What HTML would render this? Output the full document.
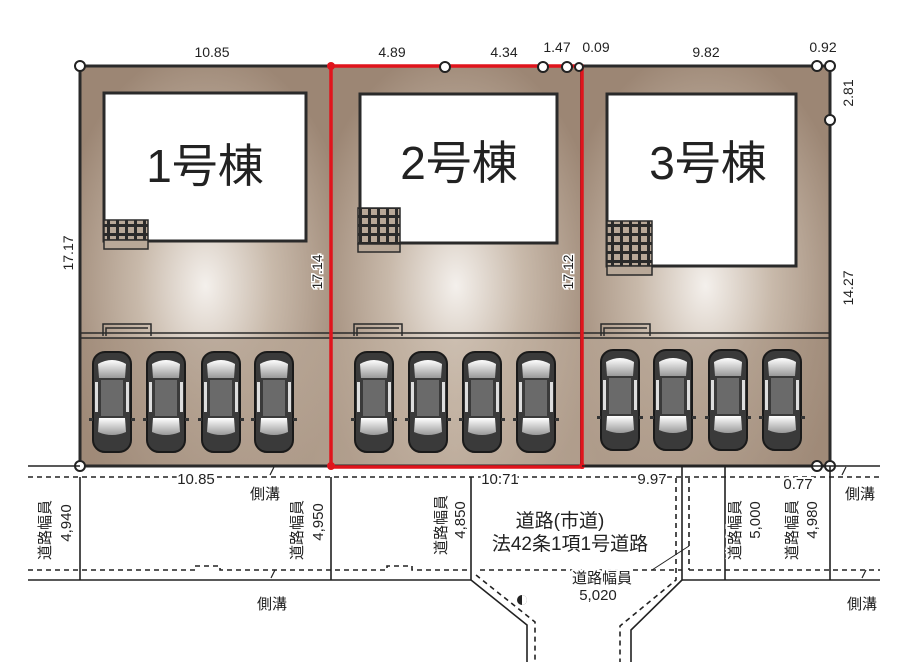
<!DOCTYPE html>
<html><head><meta charset="utf-8"><style>
html,body{margin:0;padding:0;background:#fff;}
svg{display:block;}
text{font-family:"Liberation Sans","Noto Sans CJK JP",sans-serif;fill:#222;}
</style></head><body>
<svg width="900" height="662" viewBox="0 0 900 662" xmlns="http://www.w3.org/2000/svg">
<defs>
<radialGradient id="lot" cx="0.5" cy="0.55" r="0.6">
<stop offset="0" stop-color="#f4f0ec"/><stop offset="0.45" stop-color="#c8b9aa"/><stop offset="1" stop-color="#9c8674"/>
</radialGradient>
<linearGradient id="pk" x1="0" y1="0" x2="1" y2="0">
<stop offset="0" stop-color="#a08b79"/><stop offset="0.5" stop-color="#c4b4a4"/><stop offset="1" stop-color="#a08b79"/>
</linearGradient>
<linearGradient id="gl" x1="0" y1="0" x2="0" y2="1"><stop offset="0" stop-color="#fff"/><stop offset="1" stop-color="#999"/></linearGradient>
<g id="car">
<rect x="-19" y="0" width="38" height="100" rx="12" fill="#3a3a3a" stroke="#1a1a1a" stroke-width="2"/>
<path d="M-14 12 Q0 4 14 12 L13 26 L-13 26 Z" fill="url(#gl)"/>
<rect x="-11" y="28" width="22" height="36" fill="#6a6a6a"/>
<path d="M-13 66 L13 66 L14 80 Q0 86 -14 80 Z" fill="url(#gl)"/>
<rect x="-17" y="30" width="3" height="30" fill="#ddd"/><rect x="14" y="30" width="3" height="30" fill="#ddd"/>
<rect x="-23" y="66" width="4" height="3" fill="#333"/><rect x="19" y="66" width="4" height="3" fill="#333"/>
</g>
<pattern id="grid" width="9" height="9" patternUnits="userSpaceOnUse"><rect width="9" height="9" fill="#2a2a2a"/><rect x="2" y="2" width="6" height="6" fill="#b8a898"/></pattern>
</defs>

<rect x="80" y="66" width="251" height="400" fill="url(#lot)"/>
<rect x="331" y="66" width="250" height="400" fill="url(#lot)"/>
<rect x="581" y="66" width="249" height="400" fill="url(#lot)"/>
<rect x="82" y="338" width="746" height="127" fill="url(#pk)" opacity="0.7"/>
<g stroke="#2a2a2a" fill="none" stroke-width="3">
<path d="M80 66 H830 V466 H80 Z"/>
</g>
<g stroke="#2a2a2a" stroke-width="1.5" fill="none">
<path d="M80 333 H830 M80 338 H830"/>
<path d="M103 336 V324 H151 V336 M106 336 V328 H148"/>
<path d="M354 336 V324 H402 V336 M357 336 V328 H399"/>
<path d="M601 336 V324 H650 V336 M604 336 V328 H647"/>
<line x1="581" y1="66" x2="581" y2="466" stroke-width="2"/>
</g>
<g fill="#fff" stroke="#2a2a2a" stroke-width="3">
<rect x="104" y="93" width="202" height="148"/>
<rect x="360" y="94" width="197" height="149"/>
<rect x="607" y="94" width="189" height="172"/>
</g>
<g stroke="#2a2a2a" stroke-width="1.5">
<rect x="104" y="220" width="44" height="20" fill="url(#grid)"/><rect x="104" y="240" width="44" height="9" fill="#b8a898"/>
<rect x="358" y="208" width="42" height="36" fill="url(#grid)"/><rect x="358" y="244" width="42" height="8" fill="#b8a898"/>
<rect x="607" y="221" width="45" height="45" fill="url(#grid)"/><rect x="607" y="266" width="45" height="9" fill="#b8a898"/>
</g>
<text x="205" y="182" font-size="46" text-anchor="middle">1号棟</text>
<text x="459" y="179" font-size="46" text-anchor="middle">2号棟</text>
<text x="708" y="179" font-size="46" text-anchor="middle">3号棟</text>

<use href="#car" x="112" y="352"/><use href="#car" x="166" y="352"/><use href="#car" x="221" y="352"/><use href="#car" x="274" y="352"/>
<use href="#car" x="374" y="352"/><use href="#car" x="428" y="352"/><use href="#car" x="482" y="352"/><use href="#car" x="536" y="352"/>
<use href="#car" x="620" y="350"/><use href="#car" x="673" y="350"/><use href="#car" x="728" y="350"/><use href="#car" x="782" y="350"/>

<rect x="331" y="66" width="251" height="401" fill="none" stroke="#e0141c" stroke-width="3.5"/>

<g fill="#fff" stroke="#222" stroke-width="2">
<circle cx="80" cy="66" r="5"/><circle cx="445" cy="67" r="5"/><circle cx="543" cy="67" r="5"/><circle cx="567" cy="67" r="5"/><circle cx="579" cy="67" r="4"/>
<circle cx="817" cy="66" r="5"/><circle cx="830" cy="66" r="5"/><circle cx="830" cy="120" r="5"/>
<circle cx="80" cy="466" r="5"/><circle cx="817" cy="466" r="5"/><circle cx="830" cy="466" r="5"/>
</g>
<circle cx="331" cy="66" r="4" fill="#e0141c"/><circle cx="331" cy="466" r="4" fill="#e0141c"/><circle cx="582" cy="466" r="3" fill="#e0141c"/>

<g font-size="14">
<text x="212" y="57" text-anchor="middle">10.85</text>
<text x="392" y="57" text-anchor="middle">4.89</text>
<text x="504" y="57" text-anchor="middle">4.34</text>
<text x="557" y="52" text-anchor="middle">1.47</text>
<text x="596" y="52" text-anchor="middle">0.09</text>
<text x="706" y="57" text-anchor="middle">9.82</text>
<text x="823" y="52" text-anchor="middle">0.92</text>
<text transform="translate(853,93) rotate(-90)" text-anchor="middle">2.81</text>
<text transform="translate(853,288) rotate(-90)" text-anchor="middle">14.27</text>
<text transform="translate(73,253) rotate(-90)" text-anchor="middle">17.17</text>
<text transform="translate(322,272) rotate(-90)" text-anchor="middle" stroke="#fff" stroke-width="3" paint-order="stroke">17.14</text>
<text transform="translate(573,272) rotate(-90)" text-anchor="middle" stroke="#fff" stroke-width="3" paint-order="stroke">17.12</text>
</g>

<g stroke="#222" stroke-width="1.6" fill="none">
<path d="M28 466 H80 M582 466 H880"/>
<path d="M28 580 H471 M682 580 H880"/>
<path d="M80 477 V580 M331 477 V580 M471 477 V580 L527 625 V662"/>
<path d="M682 466 V580 L631 630 V662 M725 466 V580 M830 466 V580"/>
<path d="M652 570 L689 546" stroke-width="1"/>
</g>
<g stroke="#222" stroke-width="1.6" fill="none" stroke-dasharray="5,4">
<path d="M28 477 H880"/>
<path d="M28 570 H195 V566 H220 V570 H387 V566 H412 V570 H471 M480 570 H682 M689 570 H880"/>
<path d="M476 575 L535 622 V662"/>
<path d="M676 478 V580 L620 626 V662"/>
<path d="M689 478 V570"/>
</g>
<g stroke="#222" stroke-width="1.2">
<path d="M270 475 l4 -8 M271 578 l4 -8 M842 475 l4 -8 M862 578 l4 -8"/>
</g>
<circle cx="522" cy="600" r="5" fill="#222"/><path d="M522 595 a5 5 0 0 1 0 10 z" fill="#fff"/>
<g font-size="15" stroke="#fff" stroke-width="4" paint-order="stroke">
<text x="196" y="484" text-anchor="middle">10.85</text>
<text x="500" y="484" text-anchor="middle">10.71</text>
<text x="652" y="484" text-anchor="middle">9.97</text>
<text x="798" y="489" text-anchor="middle">0.77</text>
<text x="265" y="499" text-anchor="middle">側溝</text>
<text x="272" y="609" text-anchor="middle">側溝</text>
<text x="860" y="499" text-anchor="middle">側溝</text>
<text x="862" y="609" text-anchor="middle">側溝</text>
<text x="560" y="527" text-anchor="middle" font-size="19">道路(市道)</text>
<text x="570" y="550" text-anchor="middle" font-size="19">法42条1項1号道路</text>
<text x="602" y="583" text-anchor="middle">道路幅員</text>
<text x="598" y="600" text-anchor="middle">5,020</text>
<text transform="translate(50,530) rotate(-90)" text-anchor="middle">道路幅員</text>
<text transform="translate(71,523) rotate(-90)" text-anchor="middle">4,940</text>
<text transform="translate(302,530) rotate(-90)" text-anchor="middle">道路幅員</text>
<text transform="translate(323,522) rotate(-90)" text-anchor="middle">4,950</text>
<text transform="translate(446,525) rotate(-90)" text-anchor="middle">道路幅員</text>
<text transform="translate(465,520) rotate(-90)" text-anchor="middle">4,850</text>
<text transform="translate(740,530) rotate(-90)" text-anchor="middle">道路幅員</text>
<text transform="translate(760,520) rotate(-90)" text-anchor="middle">5,000</text>
<text transform="translate(797,530) rotate(-90)" text-anchor="middle">道路幅員</text>
<text transform="translate(817,520) rotate(-90)" text-anchor="middle">4,980</text>
</g>
</svg>
</body></html>
